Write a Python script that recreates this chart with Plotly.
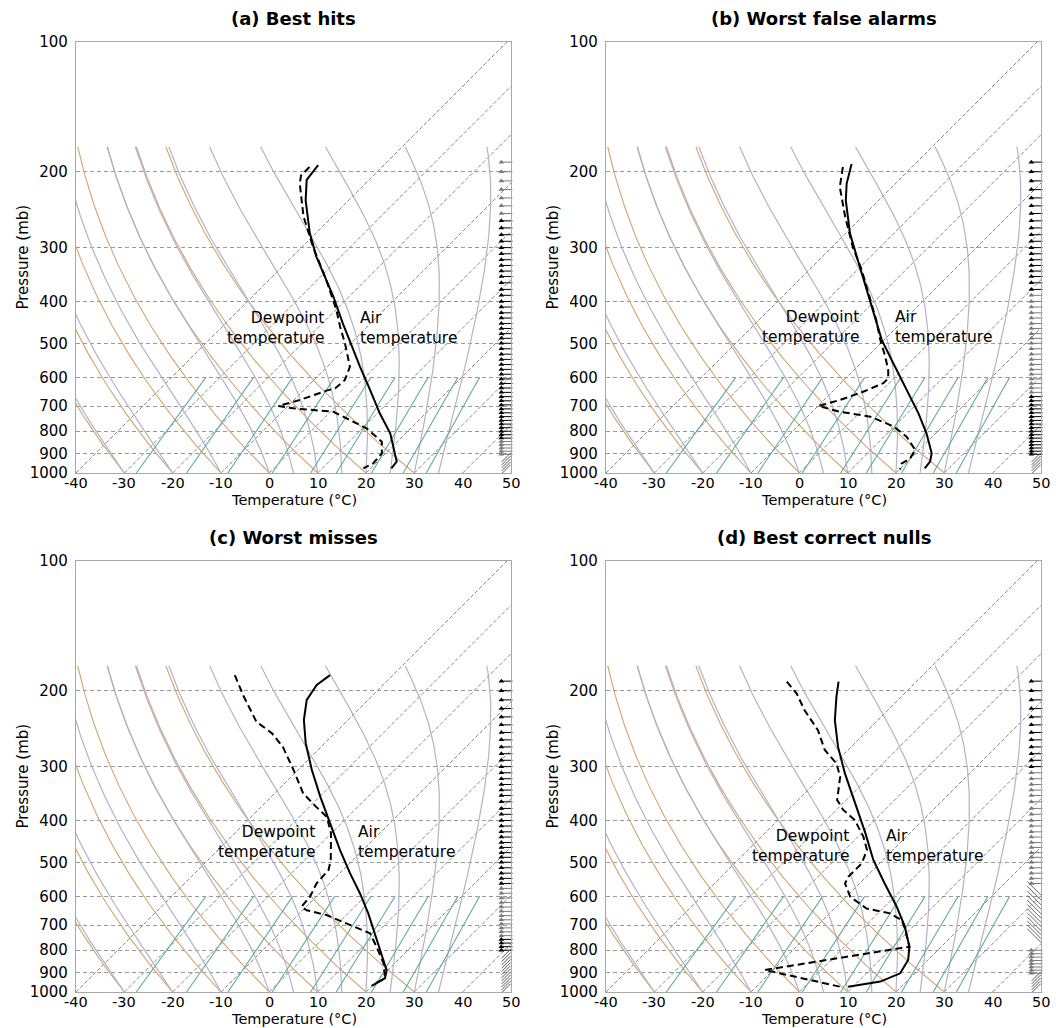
import numpy as np
import plotly.graph_objects as go

# ---------------- data ----------------
titles = ["(a) Best hits", "(b) Worst false alarms", "(c) Worst misses", "(d) Best correct nulls"]

x_ticks = [-40, -30, -20, -10, 0, 10, 20, 30, 40, 50]
x_ticktext = ["-40", "-30", "-20", "-10", "0", "10", "20", "30", "40", "50"]
p_ticks = [100, 200, 300, 400, 500, 600, 700, 800, 900, 1000]

# (a) Best hits
p_temp_a = [193, 209, 233, 278, 315, 390, 450, 509, 567, 642, 727, 809, 900, 941, 976]
t_temp_a = [-53.6, -52.9, -48.9, -41.2, -35.0, -23.2, -15.7, -9.1, -3.2, 3.7, 10.5, 16.8, 21.9, 24.0, 24.3]
p_dew_a = [195, 204, 213, 254, 299, 357, 419, 458, 500, 547, 567, 609, 636, 644, 677, 699, 708, 721, 788, 846, 900, 950, 976]
t_dew_a = [-55.0, -55.0, -53.6, -46.0, -37.7, -28.1, -19.8, -15.6, -11.2, -7.0, -5.3, -3.6, -3.9, -5.2, -8.8, -12.0, -8.4, 0.6, 10.9, 16.8, 19.2, 19.5, 18.5]

# (b) Worst false alarms
p_temp_b = [192, 213, 233, 278, 321, 376, 426, 491, 557, 642, 727, 809, 900, 941, 976]
t_temp_b = [-53.1, -50.1, -46.8, -39.1, -31.9, -23.9, -17.7, -10.5, -3.2, 5.0, 12.3, 18.1, 23.3, 24.7, 25.0]
p_dew_b = [195, 217, 254, 299, 338, 390, 442, 491, 537, 577, 603, 619, 648, 677, 699, 721, 740, 780, 824, 884, 925, 950, 981]
t_dew_b = [-54.3, -50.8, -43.6, -35.7, -29.1, -21.9, -15.7, -10.8, -6.3, -2.9, -1.2, -1.2, -3.6, -6.7, -9.9, -4.3, 3.0, 9.9, 14.7, 19.2, 19.9, 19.2, 20.1]

# (c) Worst misses
p_temp_c = [184, 194, 210, 234, 265, 305, 352, 406, 468, 530, 590, 657, 731, 813, 889, 929, 963]
t_temp_c = [-53.0, -53.7, -52.7, -49.1, -43.9, -37.2, -29.9, -22.3, -14.8, -7.9, -1.7, 4.2, 9.7, 15.2, 19.7, 21.1, 20.1]
p_dew_c = [184, 206, 236, 251, 270, 305, 346, 372, 392, 428, 494, 521, 560, 601, 634, 646, 663, 693, 731, 785, 858, 929, 968]
t_dew_c = [-72.7, -66.5, -58.6, -53.0, -47.9, -41.0, -34.1, -28.6, -24.4, -20.1, -14.6, -13.0, -12.7, -11.3, -11.0, -9.2, -4.1, 1.8, 8.7, 12.8, 17.7, 21.1, 19.9]

# (d) Best correct nulls
p_temp_d = [190.5, 206, 234, 270, 311, 365, 428, 494, 560, 634, 705, 785, 843, 905, 946, 972]
t_temp_d = [-56.1, -53.5, -48.9, -42.7, -35.8, -27.5, -19.2, -12.0, -4.8, 2.5, 8.3, 13.4, 15.9, 17.0, 14.6, 9.0]
p_dew_d = [190.5, 203, 222, 232, 247, 274.5, 295, 316.5, 358.5, 378, 399, 436, 468, 503, 540, 560, 601, 640, 657, 681, 711, 785, 889, 972]
t_dew_d = [-66.8, -62.3, -57.2, -54.4, -50.3, -44.8, -39.6, -36.1, -31.9, -28.6, -24.1, -18.9, -15.4, -13.7, -13.7, -13.0, -9.2, -3.4, 2.5, 6.3, 8.6, 13.4, -11.7, 7.3]

# label anchor positions (skewed x of text edge, pressure of text centre)
dew_label_x = [11.7, 12.8, 9.8, 10.6]
air_label_x = [18.3, 19.4, 17.9, 17.5]
label_p = [461, 459, 449, 458]

# wind barb levels and drawing style per panel (k=black flag, g=grey flag, l=light barb, s=slanted, -=none)
barb_p = [190, 200, 210, 220, 230, 240, 250, 260, 270, 280, 290, 300, 310, 320, 330, 340, 350,
          362, 375, 387, 400, 412, 425, 437, 450, 462, 475, 487, 500,
          515, 530, 545, 560, 575, 590, 605, 620, 635, 650, 665, 680, 695, 710, 725, 740, 755,
          770, 785, 800, 815, 830, 845, 860, 875, 890, 905, 920, 935, 950, 965, 980]
barb_style = [
    "g" * 7 + "k" * 44 + "g" * 5 + "l" * 5,
    "k" * 19 + "g" * 20 + "k" * 17 + "l" * 5,
    "k" * 33 + "g" * 12 + "k" * 4 + "l" * 12,
    "k" * 12 + "g" * 21 + "s" * 12 + "-" * 3 + "g" * 8 + "l" * 5,
]

# thermodynamic reference-line parameters
isotherm_t = [-40, -30, -20, -10, 0, 10, 20, 30, 40, 50]
dry_t0 = [-40, -30, -20, -10, 0, 10, 20, 30]
moist_t0 = [-40, -30, -20, -10, 0, 5, 10, 15, 20, 25, 30, 35]
mix_w = [0.0004, 0.001, 0.002, 0.004, 0.007, 0.01, 0.016, 0.024, 0.032]

# ---------------- geometry ----------------
W, H = 1056, 1028
dom_px_x = [(76, 511), (606, 1041), (76, 511), (606, 1041)]
dom_px_y = [(42, 473), (42, 473), (561, 992), (561, 992)]
px_per_deg = (511 - 76) / 90.0
px_per_dec = 473 - 42
K = px_per_dec / px_per_deg  # 45 degree skew


def sx(T, p):
    return np.asarray(T, float) + K * np.log10(1000.0 / np.asarray(p, float))


def moist_lines(t0, p):
    Rd, Cp, Lv, eps = 287.04749, 1004.6662, 2.50084e6, 0.6219569

    def es(T):
        return 6.112 * np.exp(17.67 * (T - 273.15) / (T - 29.65))

    def f(pp, T):
        e = es(T)
        rs = eps * e / (pp - e)
        return (Rd * T + Lv * rs) / (Cp + Lv * Lv * rs * eps / (Rd * T * T)) / pp

    T = np.array(t0, float) + 273.15
    out = [T.copy()]
    for k in range(len(p) - 1):
        h = p[k + 1] - p[k]
        k1 = f(p[k], T)
        k2 = f(p[k] + h / 2, T + h / 2 * k1)
        k3 = f(p[k] + h / 2, T + h / 2 * k2)
        k4 = f(p[k + 1], T + h * k3)
        T = T + h / 6 * (k1 + 2 * k2 + 2 * k3 + k4)
        out.append(T.copy())
    return np.array(out) - 273.15


def join(xs_list, ys_list):
    X, Y = [], []
    for xs, ys in zip(xs_list, ys_list):
        X += list(xs) + [None]
        Y += list(ys) + [None]
    return X, Y


p_adiab = np.geomspace(1000, 175, 120)
p_mix = np.geomspace(1000, 600, 20)

iso_x, iso_y = join([sx([t, t], [1000, 100]) for t in isotherm_t], [[1000, 100]] * len(isotherm_t))
dry_x, dry_y = join([sx((t + 273.15) * (p_adiab / 1000.0) ** 0.28571 - 273.15, p_adiab) for t in dry_t0],
                    [p_adiab] * len(dry_t0))
mt = moist_lines(moist_t0, p_adiab)
moist_x, moist_y = join([sx(mt[:, j], p_adiab) for j in range(len(moist_t0))], [p_adiab] * len(moist_t0))
mx_list = []
for w in mix_w:
    e = w * p_mix / (0.6219569 + w)
    a = np.log(e / 6.112)
    td = 243.5 * a / (17.67 - a)
    mx_list.append(sx(td, p_mix))
mix_x, mix_y = join(mx_list, [p_mix] * len(mix_w))

profiles = [
    (p_temp_a, t_temp_a, p_dew_a, t_dew_a),
    (p_temp_b, t_temp_b, p_dew_b, t_dew_b),
    (p_temp_c, t_temp_c, p_dew_c, t_dew_c),
    (p_temp_d, t_temp_d, p_dew_d, t_dew_d),
]

fig = go.Figure()
FONT = "DejaVu Sans"
annotations = []

for i in range(4):
    xa = "x" if i == 0 else f"x{i + 1}"
    ya = "y" if i == 0 else f"y{i + 1}"
    common = dict(xaxis=xa, yaxis=ya, mode="lines", hoverinfo="skip", showlegend=False)
    fig.add_trace(go.Scatter(x=iso_x, y=iso_y, line=dict(color="#8a8a8a", width=1, dash="4px,2px"), **common))
    fig.add_trace(go.Scatter(x=dry_x, y=dry_y, line=dict(color="#d2a56e", width=1.1), **common))
    fig.add_trace(go.Scatter(x=moist_x, y=moist_y, line=dict(color="#b4b2ca", width=1.2), **common))
    fig.add_trace(go.Scatter(x=mix_x, y=mix_y, line=dict(color="#5fae9c", width=1.1), **common))

    pt, tt, pdw, tdw = profiles[i]
    fig.add_trace(go.Scatter(x=sx(tdw, pdw), y=pdw, line=dict(color="black", width=2, dash="7px,4px"), **common))
    fig.add_trace(go.Scatter(x=sx(tt, pt), y=pt, line=dict(color="black", width=2), **common))

    # wind barbs (schematic)
    st = barb_style[i]
    for code, col in [("k", "black"), ("g", "#7a7a7a")]:
        ps = [p for p, c in zip(barb_p, st) if c == code]
        if ps:
            fig.add_trace(go.Scatter(x=[48.0] * len(ps), y=ps, mode="markers", hoverinfo="skip", showlegend=False,
                                     xaxis=xa, yaxis=ya, cliponaxis=False,
                                     marker=dict(symbol="triangle-up", size=5, color=col, line=dict(width=0))))
            fig.add_trace(go.Scatter(x=[49.0] * len(ps), y=ps, mode="markers", hoverinfo="skip", showlegend=False,
                                     xaxis=xa, yaxis=ya, cliponaxis=False,
                                     marker=dict(symbol="line-ew", size=9, line=dict(width=1, color=col))))
    for code, col, sym, xx, size in [("l", "#555555", "line-ne", 49.0, 9),
                                     ("s", "#666666", "line-nw", 48.6, 14)]:
        ps = [p for p, c in zip(barb_p, st) if c == code]
        if ps:
            fig.add_trace(go.Scatter(x=[xx] * len(ps), y=ps, mode="markers", hoverinfo="skip", showlegend=False,
                                     xaxis=xa, yaxis=ya, cliponaxis=False,
                                     marker=dict(symbol=sym, size=size, line=dict(width=1, color=col))))

    x0, x1 = dom_px_x[i]
    y0, y1 = dom_px_y[i]
    axis_line = dict(showline=True, linecolor="#a8a8a8", linewidth=1.3, mirror=True,
                     ticks="", automargin=False,
                     tickfont=dict(family=FONT, size=15, color="black"))
    fig.update_layout(**{
        ("xaxis" if i == 0 else f"xaxis{i + 1}"): dict(
            domain=[x0 / W, x1 / W], anchor=ya, range=[-40, 50],
            tickvals=x_ticks, showticklabels=False, showgrid=False, zeroline=False,
            **axis_line),
        ("yaxis" if i == 0 else f"yaxis{i + 1}"): dict(
            domain=[1 - y1 / H, 1 - y0 / H], anchor=xa, type="log", range=[3, 2],
            tickvals=p_ticks, ticktext=[str(v) for v in p_ticks],
            showgrid=True, gridcolor="#9a9a9a", gridwidth=1, griddash="4px,3px", zeroline=False,
            ticklabelstandoff=4,
            **axis_line),
    })

    # x tick labels placed just below the axis
    for tv, tt_ in zip(x_ticks, x_ticktext):
        annotations.append(dict(xref=xa, yref="paper", x=tv, y=1 - (y1 + 9.5) / H, text=tt_,
                                showarrow=False, xanchor="center", yanchor="middle", borderpad=0,
                                font=dict(family=FONT, size=14.5, color="black")))

    annotations.append(dict(xref="paper", yref="paper", x=(x0 + x1) / 2 / W, y=1 - (y0 - 24) / H,
                            text="<b>" + titles[i] + "</b>", showarrow=False,
                            font=dict(family=FONT, size=18, color="black"), xanchor="center", yanchor="middle"))
    annotations.append(dict(xref="paper", yref="paper", x=(x0 + x1) / 2 / W, y=1 - (y1 + 26.5) / H,
                            text="Temperature (°C)", showarrow=False, borderpad=0,
                            font=dict(family=FONT, size=14.5, color="black"), xanchor="center", yanchor="middle"))
    annotations.append(dict(xref="paper", yref="paper", x=(x0 - 54) / W, y=1 - (y0 + y1) / 2 / H,
                            text="Pressure (mb)", showarrow=False, textangle=-90,
                            font=dict(family=FONT, size=15, color="black"), xanchor="center", yanchor="middle"))
    annotations.append(dict(xref=xa, yref=ya, x=dew_label_x[i], y=np.log10(label_p[i]),
                            text="Dewpoint<br>temperature", showarrow=False, align="right",
                            xanchor="right", yanchor="middle",
                            font=dict(family=FONT, size=15.5, color="black")))
    annotations.append(dict(xref=xa, yref=ya, x=air_label_x[i], y=np.log10(label_p[i]),
                            text="Air<br>temperature", showarrow=False, align="left",
                            xanchor="left", yanchor="middle",
                            font=dict(family=FONT, size=15.5, color="black")))

fig.update_layout(width=W, height=H, margin=dict(l=0, r=0, t=0, b=0, autoexpand=False),
                  plot_bgcolor="white", paper_bgcolor="white",
                  annotations=annotations, showlegend=False,
                  font=dict(family=FONT, color="black"))

fig.write_html("out.html")
